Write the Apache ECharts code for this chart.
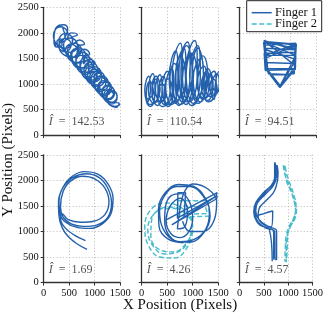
<!DOCTYPE html>
<html><head><meta charset="utf-8">
<script src="https://cdn.jsdelivr.net/npm/echarts@6/dist/echarts.min.js"></script>
<style>html,body{margin:0;padding:0;background:#fff}#c{width:326px;height:318px}</style>
</head><body><div id="c"></div>
<script>
// ---- data ----
const xTickValues = [0, 500, 1000, 1500];
const yTickValues = [0, 500, 1000, 1500, 2000, 2500];
const seriesNames = ['Finger 1', 'Finger 2'];
const iHatLabels = ['142.53', '110.54', '94.51', '1.69', '4.26', '4.57'];

const p1Finger1 = [[250,1720],[200,1900],[250,2100],[380,2160],[470,2080],
 [330,1800],[480,1950],[330,2120],[190,1950],
 [430,1700],[570,1850],[430,1990],[300,1850],
 [520,1620],[660,1760],[520,1900],[390,1760],
 [600,1520],[740,1660],[600,1800],[470,1660],
 [680,1410],[820,1560],[680,1710],[550,1560],
 [760,1320],[900,1470],[760,1620],[630,1470],
 [840,1230],[980,1380],[840,1530],[710,1380],
 [920,1130],[1060,1280],[920,1430],[790,1280],
 [990,1040],[1130,1190],[990,1340],[860,1190],
 [1060,950],[1200,1100],[1060,1250],[930,1100],
 [1130,860],[1270,1010],[1130,1160],[1000,1010],
 [1200,770],[1330,920],[1200,1070],[1080,920],
 [1270,690],[1390,830],[1270,970],[1150,830],
 [1340,610],[1440,740],[1340,870],[1240,740],
 [1420,540],[1480,620],
 [1300,650],[1180,760],[1260,880],[1380,800],
 [1230,900],[1100,850],[1100,1000],[1240,1050],
 [1120,1120],[990,1020],[990,1170],[1120,1230],
 [1010,1290],[880,1200],[880,1350],[1010,1400],
 [900,1480],[780,1390],[780,1540],[900,1580],
 [800,1680],[680,1600],[680,1740],[800,1780],
 [700,1860],[580,1780],[560,1900],[660,1960],
 [540,2000],[440,1880],[400,2020],
 [330,2140],[220,2050],[200,1850],[260,1720],[360,1760],[330,1880],[260,1830],
 [420,1630],[540,1770],[410,1890],[300,1750],
 [550,1520],[660,1650],[530,1780],[430,1660],
 [650,1420],[770,1560],[630,1690],[530,1560],
 [750,1290],[870,1430],[730,1560],[630,1420],
 [840,1190],[960,1330],[820,1460],[720,1330],
 [930,1070],[1050,1210],[910,1340],[810,1200],
 [1020,980],[1140,1120],[1000,1250],[900,1120],
 [1100,890],[1220,1030],[1080,1150],[980,1020],
 [1180,800],[1300,940],[1160,1060],[1060,930],
 [1260,710],[1380,850],[1240,970],[1140,840],
 [1330,640],[1440,770],[1310,880],[1220,760],
 [1400,560],[1500,600]];

const p2Finger1 = [[100,600],[170,875],[140,1150],[60,875],
 [170,560],[260,880],[220,1200],[130,880],
 [240,620],[320,860],[290,1100],[200,860],
 [310,580],[400,880],[360,1180],[270,880],
 [380,650],[470,900],[430,1150],[340,900],
 [450,600],[560,925],[510,1250],[400,925],
 [520,560],[630,930],[590,1300],[470,930],
 [590,600],[710,1125],[670,1650],[540,1125],
 [660,620],[800,1210],[760,1800],[600,1210],
 [730,580],[870,1140],[830,1700],[670,1140],
 [800,650],[950,1235],[900,1820],[730,1235],
 [870,600],[1000,1100],[960,1600],[800,1100],
 [940,650],[1090,1250],[1040,1850],[870,1250],
 [1010,620],[1150,1185],[1100,1750],[940,1185],
 [1080,700],[1210,1100],[1160,1500],[1010,1100],
 [1150,650],[1270,1000],[1220,1350],[1090,1000],
 [1220,720],[1320,985],[1280,1250],[1170,985],
 [1290,680],[1400,940],[1350,1200],[1240,940],
 [1360,750],[1460,1000],[1420,1250],[1310,1000],
 [1430,800],[1520,1000],[1480,1200],[1380,1000],
 [1490,850],[1560,1050],[1530,1250],[1450,1050],
 [1420,700],[1340,900],[1400,1100],[1480,900],
 [1300,650],[1220,975],[1300,1300],[1380,975],
 [1200,700],[1100,1125],[1200,1550],[1300,1125],
 [1100,620],[990,1160],[1100,1700],[1210,1160],
 [980,580],[870,1090],[980,1600],[1090,1090],
 [880,650],[770,1200],[880,1750],[990,1200],
 [760,600],[660,1075],[760,1550],[860,1075],
 [640,650],[550,1025],[640,1400],[730,1025],
 [520,600],[440,850],[520,1100],[600,850],
 [400,560],[320,780],[400,1000],[480,780],
 [280,650],[200,900],[280,1150],[360,900],
 [160,600],[90,825],[160,1050],[230,825],
 [80,700]];

const p3Finger1 = [[480,1830],[1110,1780],[1080,1280],[790,930],[520,1280],[470,1820],[1100,1560],[1090,1280],
 [500,1270],[480,1600],[1100,1620],[1110,1770],[500,1500],[490,1830],[1100,1760],[1090,1450],[780,950],
 [560,1250],[480,1680],[1100,1480],[1080,1300],[520,1300],[470,1800],[1110,1790],[500,1560],[1100,1560],
 [780,940],[510,1290],[500,1820],[1090,1700],[1070,1200],[600,1180],[1010,1180],[560,1200],[500,1760],
 [1100,1800],[1060,1400],[490,1420],[500,1700],[1080,1670],[470,1850],[1100,1350],[800,960],[530,1300]];

const p4Finger1 = [[850,650],[650,760],[480,900],[360,1080],[300,1300],[290,1580],[380,1870],[560,2080],[800,2170],
 [1060,2120],[1260,1930],[1360,1650],[1320,1350],[1150,1150],[900,1060],[650,1080],[430,1180],[320,1340],
 [300,1600],[390,1880],[580,2060],[830,2130],[1080,2060],[1250,1860],[1330,1560],[1260,1280],[1050,1130],
 [780,1100],[540,1150],[380,1280],[330,1480],[380,1780],[520,1980],[760,2080],[1000,2030],[1200,1850],
 [1280,1580],[1200,1330],[980,1200],[720,1180],[480,1230],[360,1350],[330,1250],[420,1070],[600,930],[820,820]];

const p5Finger1Curves = [[820,780],[520,850],[340,1100],[330,1450],[460,1760],[720,1920],[1000,1890],[1250,1650],
 [1340,1300],[1220,980],[950,790],[650,820],[420,1050],[350,1400],[450,1700],[680,1880],[950,1880],[1200,1700],
 [1330,1400],[1260,1050],[1020,840],[760,800],[540,920],[450,1200],[470,1500],[580,1700],[780,1740],[950,1550],
 [1000,1250],[930,1000],[760,880],[580,950],[480,1200],[560,1500],[760,1650],[900,1400],[850,1100],[700,1050],
 [760,1500],[850,1800],[1000,1930],[1300,1830],[1470,1580],[1420,1220],[1200,1000],[950,1000],[800,1200]];
const p5Finger1Lines = [[490,1230],[1480,1760],[1450,1680],[590,1130],[1470,1640],[1480,1700],[700,1260],
 [710,1760],[860,1760],[830,1270]];
const p5Finger2Curves = [[1000,1000],[900,700],[650,480],[350,500],[120,750],[60,1100],[200,1450],[480,1560],
 [800,1450],[980,1200],[950,900],[750,620],[450,560],[200,750],[120,1050],[250,1350],[520,1480],[820,1380],
 [1000,1100],[880,780],[620,600],[340,650],[180,900],[200,1250],[420,1450],[700,1450]];
const p5Finger2Lines = [[700,1450],[720,1600],[1300,1600],[1330,1300],[750,1280],[740,1500],[1250,1480],
 [1290,1350],[900,1340]];

const p6Finger1 = [[700,450],[700,1000],[520,1080],[350,1200],[290,1380],[330,1560],[480,1750],[650,1900],
 [720,2050],[720,2350],[740,2300],[750,2050],[680,1880],[520,1720],[360,1550],[310,1370],[380,1180],
 [560,1060],[720,1000],[730,450],[760,450],[760,1010],[580,1100],[400,1230],[330,1400],[380,1600],[540,1780],
 [700,1950],[770,2150],[770,2300],[790,2150],[720,1800],[560,1620],[400,1450],[380,1300],[470,1150],
 [650,1090],[680,1400],[500,1350],[330,1280],[420,1120],[610,1040],[670,420]];
const p6Finger2 = [[900,2300],[920,2150],[980,1990],[1040,1850],[1080,1720],[1130,1560],[1150,1420],[1110,1260],
 [1020,1100],[960,930],[940,700],[930,420],[960,430],[980,700],[990,930],[1050,1100],[1140,1260],[1170,1430],
 [1140,1580],[1090,1720],[1020,1860],[960,2000],[930,2300],[950,2200],[1010,2000],[1070,1850],[1120,1700],
 [1160,1520],[1130,1300],[1060,1130],[990,960],[960,750],[960,400]];

// ---- layout ----
const gridLeft = [43.7, 141.7, 239.7];
const gridTop = [7.3, 154.8];
const gridW = 76.5, gridH = 127.8;
const blue = '#2461ad', cyan = '#46bccb';
const serif = '"Liberation Serif", "DejaVu Serif", serif';

const panelSeries = [
  [{d: p1Finger1, n: 0, s: 0.55}],
  [{d: p2Finger1, n: 0, s: 0.55}],
  [{d: p3Finger1, n: 0, s: false}],
  [{d: p4Finger1, n: 0, s: 0.38}],
  [{d: p5Finger2Curves, n: 1, s: 0.4}, {d: p5Finger2Lines, n: 1, s: false},
   {d: p5Finger1Curves, n: 0, s: 0.4}, {d: p5Finger1Lines, n: 0, s: false}],
  [{d: p6Finger1, n: 0, s: 0.4}, {d: p6Finger2, n: 1, s: 0.4}]
];

const grids = [], xAxes = [], yAxes = [], series = [], graphics = [];
for (let p = 0; p < 6; p++) {
  const r = Math.floor(p / 3), c = p % 3;
  grids.push({left: gridLeft[c], top: gridTop[r], width: gridW, height: gridH, containLabel: false});
  const splitLine = {show: true, lineStyle: {color: '#b5b5b5', width: 0.8, type: [1.2, 2]}};
  const common = {
    axisLine: {show: true, onZero: false, lineStyle: {color: '#333', width: 1.3}},
    axisTick: {show: true, length: 3, lineStyle: {color: '#333', width: 1}},
    splitLine: splitLine
  };
  xAxes.push(Object.assign({type: 'value', gridIndex: p, min: xTickValues[0], max: xTickValues[xTickValues.length-1], interval: 500,
    axisLabel: {show: r === 1, margin: 5, fontFamily: serif, fontSize: 10.5, color: '#111', formatter: v => String(v)}}, common));
  yAxes.push(Object.assign({type: 'value', gridIndex: p, min: yTickValues[0], max: yTickValues[yTickValues.length-1], interval: 500,
    axisLabel: {show: c === 0, margin: 5, fontFamily: serif, fontSize: 10.5, color: '#111', formatter: v => String(v)}}, common));
  panelSeries[p].forEach(it => {
    series.push({type: 'line', name: seriesNames[it.n], xAxisIndex: p, yAxisIndex: p, data: it.d,
      showSymbol: false, symbol: 'none', smooth: it.s, clip: false, animation: false,
      lineStyle: {color: it.n === 0 ? blue : cyan, width: 1.4, type: it.n === 0 ? 'solid' : [5, 2.5]},
      itemStyle: {color: it.n === 0 ? blue : cyan}, z: it.n === 0 ? 3 : 2});
  });
  graphics.push({type: 'text', left: gridLeft[c] + 5, top: gridTop[r] + gridH - 19,
    style: {text: '{i|Î}{n|\u2002=\u2002' + iHatLabels[p] + '}',
      rich: {i: {fontFamily: serif, fontStyle: 'italic', fontSize: 12, fill: '#555'},
             n: {fontFamily: serif, fontSize: 12, fill: '#555'}}}});
}
graphics.push({type: 'text', left: 123, top: 298, style: {text: 'X Position (Pixels)', fontFamily: serif, fontSize: 15, fill: '#111'}});
graphics.push({type: 'text', x: 8, y: 160, rotation: Math.PI / 2,
  style: {text: 'Y Position (Pixels)', fontFamily: serif, fontSize: 15, fill: '#111', align: 'center', verticalAlign: 'middle'}});

// legend drawn as graphics (solid vs dashed line samples)
graphics.push({type: 'rect', shape: {x: 246.7, y: 0.7, width: 75, height: 31}, z: 50,
  style: {fill: '#fff', stroke: '#222', lineWidth: 1}});
[[12.7, blue, null, seriesNames[0]], [24, cyan, [5, 2.5], seriesNames[1]]].forEach(([y, col, dash, label]) => {
  graphics.push({type: 'line', shape: {x1: 251.7, y1: y, x2: 271.7, y2: y}, z: 51,
    style: {stroke: col, lineWidth: 1.5, lineDash: dash}});
  graphics.push({type: 'text', x: 275, y: y, z: 51,
    style: {text: label, fontFamily: serif, fontSize: 12.5, fill: '#111', verticalAlign: 'middle'}});
});

const chart = echarts.init(document.getElementById('c'), null, {renderer: 'canvas'});
chart.setOption({
  animation: false,
  backgroundColor: '#fff',
  grid: grids, xAxis: xAxes, yAxis: yAxes, series: series,
  graphic: graphics
});
</script></body></html>
